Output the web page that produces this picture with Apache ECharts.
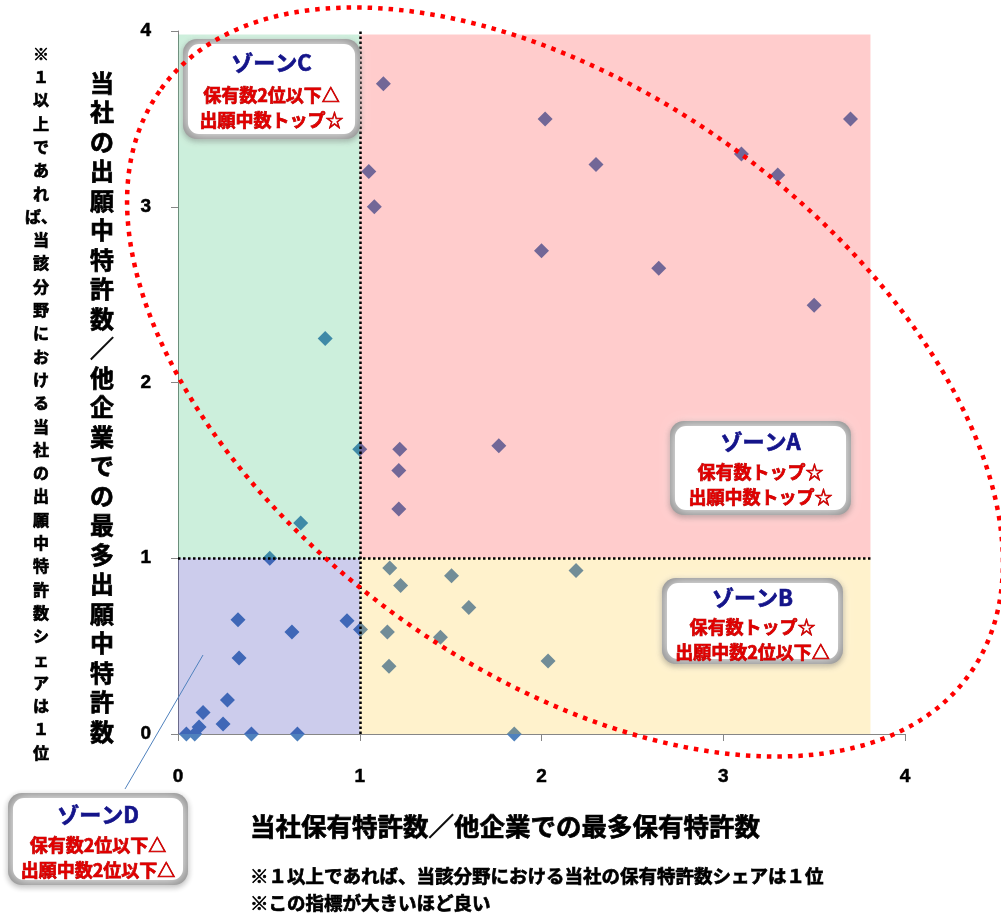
<!DOCTYPE html>
<html><head><meta charset="utf-8">
<script src="https://cdn.jsdelivr.net/npm/echarts@6/dist/echarts.min.js"></script>
<style>html,body{margin:0;padding:0;background:#fff}#c{width:1001px;height:913px}</style>
</head><body><div id="c"></div>
<script>
// ---- data ----
const xValues = [1.13,2.02,3.70,1.05,2.30,3.10,3.30,1.08,2.00,2.645,3.50,0.81,1.00,1.22,1.765,1.215,1.215,0.675,0.505,1.165,1.225,1.505,2.19,1.60,0.33,0.93,0.627,1.004,1.152,1.444,0.336,1.161,2.036,0.272,0.138,0.248,0.116,0.046,0.092,0.404,0.657,1.85];
const yValues = [3.70,3.50,3.50,3.20,3.24,3.30,3.18,3.00,2.75,2.65,2.44,2.25,1.62,1.62,1.64,1.50,1.28,1.20,1.00,0.945,0.845,0.90,0.93,0.72,0.65,0.645,0.58,0.595,0.58,0.55,0.432,0.385,0.415,0.193,0.123,0.057,0.04,0,0,0,0,0];
const axisTicks = [0,1,2,3,4];
const zoneNames = ['ゾーンC','ゾーンA','ゾーンB','ゾーンD'];
const zoneLine1 = ['保有数2位以下△','保有数トップ☆','保有数トップ☆','保有数2位以下△'];
const zoneLine2 = ['出願中数トップ☆','出願中数トップ☆','出願中数2位以下△','出願中数2位以下△'];
const xTitle = '当社保有特許数／他企業での最多保有特許数';
const yTitle = '当社の出願中特許数／他企業での最多出願中特許数';
const yNote = '※１以上であれば、当該分野における当社の出願中特許数シェアは１位';
const xNotes = ['※１以上であれば、当該分野における当社の保有特許数シェアは１位','※この指標が大きいほど良い'];

// ---- layout / style ----
const JP = "'Noto Sans CJK JP', sans-serif";
const split = 1, zoneXMax = 3.81, zoneYMax = 3.98;
const boxes = [ {x:183,y:39,w:177,h:100,t:63,l1:95,l2:120},
                {x:670,y:421,w:181,h:94,t:442,l1:472,l2:497},
                {x:662,y:578,w:181,h:86,t:598,l1:627,l2:652},
                {x:8,y:793,w:180,h:92,t:815,l1:845,l2:870} ];

function verticalLines(str){
  const chars = Array.from(str); const out = [];
  for (let i=0;i<chars.length;i++){
    if ((chars[i]==='、') && out.length){ out[out.length-1] += chars[i]; }
    else out.push(chars[i]);
  }
  return out.join('\n');
}

const heavy = {stroke:'#000', lineWidth:0.7};
const graphic = [];
boxes.forEach((b,i)=>{
  graphic.push({type:'rect', z:50, shape:{x:b.x,y:b.y,width:b.w,height:b.h,r:14},
     style:{fill:'#909090', shadowBlur:6, shadowColor:'rgba(0,0,0,0.35)', shadowOffsetY:2}});
  graphic.push({type:'rect', z:51, shape:{x:b.x+5,y:b.y+5,width:b.w-10,height:b.h-10,r:11},
     style:{fill:'#ffffff', shadowBlur:14, shadowColor:'#ffffff'}});
  graphic.push({type:'rect', z:52, shape:{x:b.x+9,y:b.y+9,width:b.w-18,height:b.h-18,r:8},
     style:{fill:'#ffffff'}});
  graphic.push({type:'text', z:53, x:b.x+b.w/2, y:b.t, style:{text:zoneNames[i], font:"bold 22px "+JP, fill:'#14148a', align:'center', verticalAlign:'middle', stroke:'#14148a', lineWidth:0.7}});
  graphic.push({type:'text', z:53, x:b.x+b.w/2, y:b.l1, style:{text:zoneLine1[i], font:"bold 18px "+JP, fill:'#e00000', align:'center', verticalAlign:'middle', stroke:'#b00000', lineWidth:0.7}});
  graphic.push({type:'text', z:53, x:b.x+b.w/2, y:b.l2, style:{text:zoneLine2[i], font:"bold 18px "+JP, fill:'#e00000', align:'center', verticalAlign:'middle', stroke:'#b00000', lineWidth:0.7}});
});
graphic.push({type:'line', z:40, shape:{x1:125,y1:789,x2:203,y2:655}, style:{stroke:'#4F81BD', lineWidth:1}});
graphic.push({type:'text', z:40, x:102, y:68, style:Object.assign({text:verticalLines(yTitle), font:"bold 24px "+JP, lineHeight:29.5, fill:'#000', align:'center', verticalAlign:'top'}, heavy)});
graphic.push({type:'text', z:40, x:41, y:42, style:Object.assign({text:verticalLines(yNote), font:"bold 16px "+JP, lineHeight:23.3, fill:'#000', align:'center', verticalAlign:'top'}, heavy)});
graphic.push({type:'text', z:40, x:250, y:826, style:Object.assign({text:xTitle, font:"bold 25.5px "+JP, fill:'#000', align:'left', verticalAlign:'middle'}, heavy)});
graphic.push({type:'text', z:40, x:250, y:876, style:Object.assign({text:xNotes[0], font:"bold 18.5px "+JP, fill:'#000', align:'left', verticalAlign:'middle'}, heavy)});
graphic.push({type:'text', z:40, x:250, y:903, style:Object.assign({text:xNotes[1], font:"bold 18.5px "+JP, fill:'#000', align:'left', verticalAlign:'middle'}, heavy)});
graphic.push({type:'ellipse', x:565, y:382, rotation:-0.628, z:100, silent:true,
  shape:{cx:0, cy:0, rx:499, ry:288},
  style:{fill:'none', stroke:'#ff0000', lineWidth:4.5, lineDash:[4.5,6]}});

const axisCommon = {
  type:'value', min:axisTicks[0], max:axisTicks[axisTicks.length-1], interval:1,
  splitLine:{show:false},
  axisLine:{show:true, lineStyle:{color:'#868686', width:1}},
  axisTick:{show:true, length:7, lineStyle:{color:'#868686'}},
};
const tickLabel = {fontSize:19, fontWeight:'bold', color:'#000', fontFamily:'Liberation Sans', textBorderColor:'#000', textBorderWidth:0.5};

const chart = echarts.init(document.getElementById('c'));
chart.setOption({
  animation:false,
  grid:{left:178, right:96, top:31, bottom:179, containLabel:false},
  xAxis:Object.assign({}, axisCommon, {axisLabel:Object.assign({margin:33}, tickLabel)}),
  yAxis:Object.assign({}, axisCommon, {axisLabel:Object.assign({margin:27}, tickLabel)}),
  graphic:graphic,
  series:[
    {type:'scatter', z:2, symbol:'diamond', symbolSize:15, itemStyle:{color:'#4F81BD', opacity:1},
     data:xValues.map((x,i)=>[x,yValues[i]])},
    {type:'scatter', z:3, data:[], clip:false, silent:true,
     markArea:{silent:true, z:3, data:[
       [{coord:[0,split], itemStyle:{color:'#00B050', opacity:0.2}},{coord:[split,zoneYMax]}],
       [{coord:[split,split], itemStyle:{color:'#FF0000', opacity:0.2}},{coord:[zoneXMax,zoneYMax]}],
       [{coord:[split,0], itemStyle:{color:'#FFC000', opacity:0.2}},{coord:[zoneXMax,split]}],
       [{coord:[0,0], itemStyle:{color:'#0000A0', opacity:0.2}},{coord:[split,split]}]
     ]},
     markLine:{silent:true, z:5, symbol:['none','none'], label:{show:false},
       lineStyle:{color:'#000', type:[2.5,2.5], width:2.5},
       data:[ [{coord:[split,0]},{coord:[split,4]}], [{coord:[0,split]},{coord:[zoneXMax,split]}] ]}
    }
  ]
});
</script></body></html>
